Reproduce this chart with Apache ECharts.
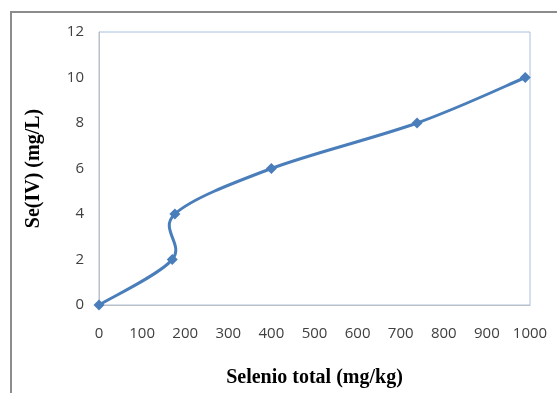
<!DOCTYPE html>
<html><head><meta charset="utf-8">
<script src="https://cdn.jsdelivr.net/npm/echarts@6/dist/echarts.min.js"></script>
<style>html,body{margin:0;padding:0;background:#fff}#c{width:557px;height:393px}</style>
</head><body><div id="c"></div>
<script>
const seleniototal = [0, 170, 176, 400, 738, 989];
const seIV = [0, 2, 4, 6, 8, 10];
const xTitle = 'Selenio total (mg/kg)';
const yTitle = 'Se(IV) (mg/L)';
const lineColor = '#4a7ebb';
const chart = echarts.init(document.getElementById('c'));
const tickFont = {fontFamily: 'Open Sans', fontSize: 15, color: '#404040'};
function renderCurve(params, api) {
  if (params.dataIndex !== 0) return null;
  const p = seleniototal.map((x, i) => api.coord([x, seIV[i]]));
  let d = 'M' + p[0][0] + ' ' + p[0][1];
  for (let i = 0; i < p.length - 1; i++) {
    const p0 = p[Math.max(i - 1, 0)], p1 = p[i], p2 = p[i + 1], p3 = p[Math.min(i + 2, p.length - 1)];
    const c1 = [p1[0] + (p2[0] - p0[0]) / 6, p1[1] + (p2[1] - p0[1]) / 6];
    const c2 = [p2[0] - (p3[0] - p1[0]) / 6, p2[1] - (p3[1] - p1[1]) / 6];
    d += ' C' + c1[0] + ' ' + c1[1] + ' ' + c2[0] + ' ' + c2[1] + ' ' + p2[0] + ' ' + p2[1];
  }
  return {type: 'path', shape: {pathData: d}, style: {fill: null, stroke: lineColor, lineWidth: 3}};
}
chart.setOption({
  animation: false,
  graphic: [{type: 'rect', shape: {x: 11, y: 12, width: 700, height: 500}, style: {fill: 'none', stroke: '#8c8c8c', lineWidth: 2}}],
  grid: {left: 99, right: 27, top: 32, bottom: 88, show: true, borderColor: '#a7c0df', borderWidth: 1},
  xAxis: {type: 'value', min: 0, max: 1000, interval: 100,
    axisLine: {show: true, lineStyle: {color: '#bfbfbf'}}, axisTick: {show: false}, splitLine: {show: false},
    axisLabel: Object.assign({margin: 21, formatter: v => String(v)}, tickFont),
    name: xTitle, nameLocation: 'middle', nameGap: 63,
    nameTextStyle: {fontFamily: 'Liberation Serif', fontWeight: 'bold', fontSize: 20, color: '#000'}},
  yAxis: {type: 'value', min: 0, max: 12, interval: 2,
    axisLine: {show: true, lineStyle: {color: '#bfbfbf'}}, axisTick: {show: false}, splitLine: {show: false},
    axisLabel: Object.assign({margin: 15}, tickFont),
    name: yTitle, nameLocation: 'middle', nameGap: 55,
    nameTextStyle: {fontFamily: 'Liberation Serif', fontWeight: 'bold', fontSize: 20, color: '#000'}},
  series: [
    {type: 'custom', data: seleniototal.map((x, i) => [x, seIV[i]]), renderItem: renderCurve, z: 2},
    {type: 'scatter', data: seleniototal.map((x, i) => [x, seIV[i]]),
      symbol: 'diamond', symbolSize: 11, itemStyle: {color: lineColor, opacity: 1}, z: 3}
  ]
});
</script></body></html>
